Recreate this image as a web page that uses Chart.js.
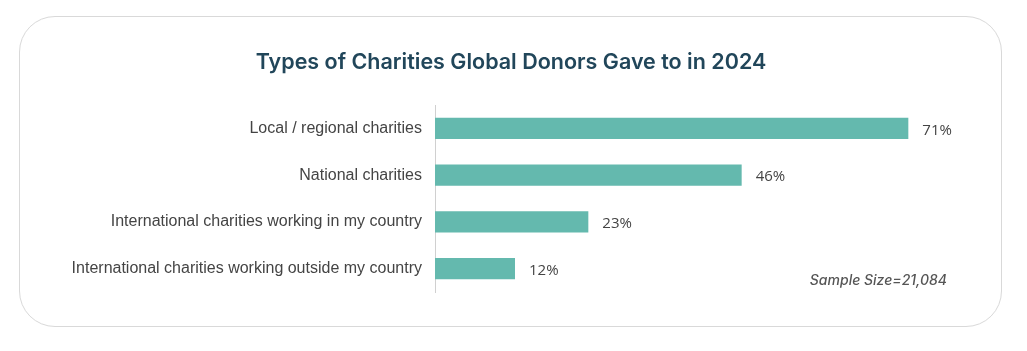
<!DOCTYPE html>
<html>
<head>
<meta charset="utf-8">
<script src="https://cdn.jsdelivr.net/npm/chart.js@4"></script>
<style>
  html,body{margin:0;padding:0;background:#fff;}
  #wrap{position:relative;width:1027px;height:351px;}
  .card{position:absolute;left:19px;top:16px;width:983px;height:311px;border:1px solid #d9d9d9;border-radius:36px;box-sizing:border-box;}
  canvas{position:absolute;left:0;top:0;}
  .title{position:absolute;left:0;width:1022px;top:48px;text-align:center;font:600 21.5px Inter,sans-serif;color:#21465a;}
  .note{position:absolute;right:80px;top:271px;font:italic 500 14px Inter,'Liberation Sans',sans-serif;color:#555;}
</style>
</head>
<body>
<div id="wrap">
  <div class="card"></div>
  <canvas id="c" width="1027" height="351"></canvas>
  <div class="title">Types of Charities Global Donors Gave to in 2024</div>
  <div class="note">Sample Size=21,084</div>
</div>
<script>
// données du graphique
const categories=['Local / regional charities','National charities','International charities working in my country','International charities working outside my country'];
const shares=[71,46,23,12];

const valueLabels={
  id:'valueLabels',
  afterDatasetsDraw(chart){
    const ctx=chart.ctx;
    const meta=chart.getDatasetMeta(0);
    ctx.save();
    ctx.font="15px 'Open Sans'";
    ctx.fillStyle='#444';
    ctx.textBaseline='middle';
    ctx.textAlign='left';
    meta.data.forEach((b,i)=>{ ctx.fillText(shares[i]+'%',b.x+14,b.y+2); });
    ctx.restore();
  }
};

new Chart(document.getElementById('c'),{
  type:'bar',
  data:{
    labels:categories,
    datasets:[{
      data:shares,
      backgroundColor:'#64b9ae',
      borderWidth:0,
      categoryPercentage:0.86,
      barPercentage:0.53
    }]
  },
  options:{
    indexAxis:'y',
    responsive:false,
    animation:false,
    layout:{padding:{left:0,right:92,top:105,bottom:59}},
    scales:{
      x:{display:false,min:0,max:75},
      y:{
        grid:{display:false,drawTicks:false},
        border:{display:true,color:'#d0d0d0',width:1},
        ticks:{padding:13,color:'#444',font:{family:"'Liberation Sans', Arial",size:16}},
        afterFit:s=>{ s.width=435; }
      }
    },
    plugins:{
      legend:{display:false},
      tooltip:{enabled:false},
      title:{display:false}
    }
  },
  plugins:[valueLabels]
});
</script>
</body>
</html>
